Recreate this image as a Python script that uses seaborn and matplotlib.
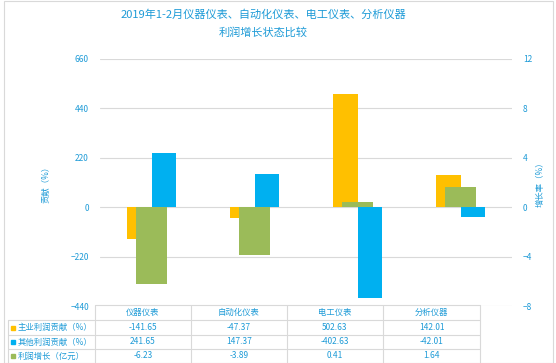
import numpy as np
import pandas as pd
import matplotlib
matplotlib.use('Agg')
import matplotlib.pyplot as plt
from matplotlib.lines import Line2D
from matplotlib.patches import Rectangle
import seaborn as sns

sns.set_style('white')
plt.rcParams['font.family'] = ['Noto Sans CJK SC', 'DejaVu Sans']

categories = ['仪器仪表', '自动化仪表', '电工仪表', '分析仪器']
main_profit = [-141.65, -47.37, 502.63, 142.01]
other_profit = [241.65, 147.37, -402.63, -42.01]
growth = [-6.23, -3.89, 0.41, 1.64]
series_names = ['主业利润贡献（%）', '其他利润贡献（%）', '利润增长（亿元）']
left_ticks = [-440, -220, 0, 220, 440, 660]
right_ticks = [-8, -4, 0, 4, 8, 12]

orange = '#FFC000'
blue = '#00B0F0'
green = '#9BBB59'
txt = '#1E9BD7'
grid = '#D9D9D9'

W, H = 556, 363
fig = plt.figure(figsize=(W / 100, H / 100), dpi=100)

def fx(px):
    return px / W

def fy(py):
    return 1 - py / H

ax1 = fig.add_axes([fx(100), fy(306), fx(512) - fx(100), fy(59) - fy(306)])

df = pd.DataFrame({
    'cat': categories * 2,
    'val': main_profit + other_profit,
    'series': [series_names[0]] * 4 + [series_names[1]] * 4,
})
sns.barplot(data=df, x='cat', y='val', hue='series', palette=[orange, blue],
            width=0.48, saturation=1, linewidth=0, ax=ax1, legend=False, zorder=2)
ax1.set_ylim(-440, 660)
ax1.set_yticks(left_ticks)
ax1.yaxis.grid(True, color=grid, linewidth=0.8, zorder=0)
ax1.set_axisbelow(True)
ax1.set_xlim(-0.5, 3.5)
ax1.set_xticks([])
ax1.set_xlabel('')
ax1.set_ylabel('贡献（%）', color=txt, fontsize=6, labelpad=14)
ax1.tick_params(axis='y', length=0, pad=8, labelsize=6, labelcolor=txt)
for s in ax1.spines.values():
    s.set_visible(False)

ax2 = ax1.twinx()
sns.barplot(x=categories, y=growth, color=green, width=0.31, saturation=1,
            linewidth=0, ax=ax2)
ax2.set_ylim(-8, 12)
ax2.set_yticks(right_ticks)
ax2.set_xlim(-0.5, 3.5)
ax2.set_xticks([])
ax2.set_ylabel('增长率（%）', color=txt, fontsize=6, rotation=90, labelpad=2)
ax2.tick_params(axis='y', length=0, pad=8, labelsize=6, labelcolor=txt)
for s in ax2.spines.values():
    s.set_visible(False)

fig.text(fx(263), fy(15), '2019年1-2月仪器仪表、自动化仪表、电工仪表、分析仪器',
         ha='center', va='center', fontsize=8, color=txt)
fig.text(fx(263), fy(32), '利润增长状态比较', ha='center', va='center', fontsize=8, color=txt)

# data table under the chart
col_x = [95, 191, 287, 383, 480]
row_y = [305, 320, 335, 349, 363]
for x in col_x:
    fig.add_artist(Line2D([fx(x), fx(x)], [fy(305), fy(363)], color=grid, lw=0.8))
fig.add_artist(Line2D([fx(8), fx(8)], [fy(320), fy(363)], color=grid, lw=0.8))
fig.add_artist(Line2D([fx(95), fx(480)], [fy(305), fy(305)], color=grid, lw=0.8))
for y in row_y[1:4]:
    fig.add_artist(Line2D([fx(8), fx(480)], [fy(y), fy(y)], color=grid, lw=0.8))

for i, c in enumerate(categories):
    cx = (col_x[i] + col_x[i + 1]) / 2
    fig.text(fx(cx), fy(312.5), c, ha='center', va='center', fontsize=6, color=txt)

rows = [main_profit, other_profit, growth]
colors = [orange, blue, green]
for r, (name, vals, col) in enumerate(zip(series_names, rows, colors)):
    cy = (row_y[r + 1] + row_y[r + 2]) / 2
    fig.add_artist(Rectangle((fx(11), fy(cy + 2)), fx(4), fy(0) - fy(4), color=col))
    fig.text(fx(18), fy(cy), name, ha='left', va='center', fontsize=6, color=txt)
    for i, v in enumerate(vals):
        cx = (col_x[i] + col_x[i + 1]) / 2
        fig.text(fx(cx), fy(cy), f'{v:.2f}', ha='center', va='center', fontsize=6, color=txt)

fig.add_artist(Rectangle((fx(4), fy(363)), fx(549), fy(1) - fy(363), fill=False,
                         edgecolor=grid, lw=0.8))

fig.savefig('out.png', dpi=100)
